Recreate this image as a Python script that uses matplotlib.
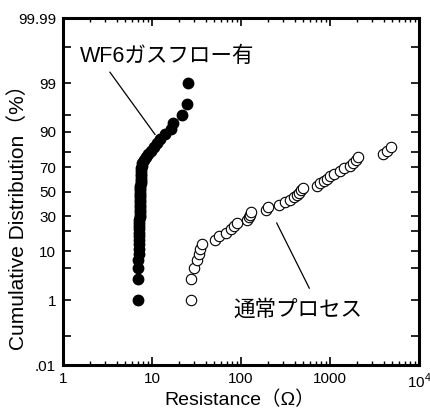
import numpy as np
import matplotlib
matplotlib.use("Agg")
import matplotlib.pyplot as plt
from statistics import NormalDist

plt.rcParams['font.family'] = ['Liberation Sans', 'Noto Sans CJK JP']
plt.rcParams['mathtext.fontset'] = 'custom'
plt.rcParams['mathtext.rm'] = 'Liberation Sans'

# ---- data ----
n_total = 50
wf6_resistance = [7.0, 7.0, 7.05, 7.05, 7.1, 7.1, 7.1, 7.15, 7.15, 7.15,
                  7.2, 7.2, 7.2, 7.2, 7.25, 7.25, 7.25, 7.3, 7.3, 7.3,
                  7.3, 7.35, 7.35, 7.35, 7.4, 7.4, 7.4, 7.4, 7.45, 7.45,
                  7.5, 7.5, 7.5, 7.55, 7.6, 7.7, 7.8, 8.1, 8.5, 9.0,
                  9.7, 10.5, 11.3, 12.4, 14.0, 16.5, 17.4, 22.0, 25.0, 25.5]
normal_resistance = [27.2, 27.2, 29.6, 32.0, 33.7, 34.6, 36.5, 51.0, 56.6, 67.8,
                     77.2, 83.4, 90.2, 116.8, 123, 126, 129.5, 191, 201, 267,
                     312, 355, 394, 426, 448, 472, 497, 714, 772, 856,
                     925, 1000, 1109, 1295, 1437, 1677, 1813, 1960, 2064, 3940,
                     4370, 4845]

wf6_pct = [(i - 0.5) / n_total * 100 for i in range(1, len(wf6_resistance) + 1)]
normal_pct = [(i - 0.5) / n_total * 100 for i in range(1, len(normal_resistance) + 1)]

y_ticks = [0.01, 0.1, 1, 5, 10, 20, 30, 50, 70, 80, 90, 95, 99, 99.9, 99.99]
y_labels = ['.01', '', '1', '', '10', '', '30', '50', '70', '', '90', '', '99', '', '99.99']
x_ticks = [1, 10, 100, 1000, 10000]
x_labels = ['1', '10', '100', '1000', r'$10^4$']

label_wf6 = 'WF6ガスフロー有'
label_normal = '通常プロセス'

# ---- probability scale ----
_nd = NormalDist()
_ppf = np.vectorize(lambda q: _nd.inv_cdf(q) if np.isfinite(q) else np.nan, otypes=[float])
_cdf = np.vectorize(lambda z: _nd.cdf(z) if not np.isnan(z) else np.nan, otypes=[float])

def forward(p):
    p = np.asarray(p, dtype=float)
    q = np.clip(p / 100.0, 1e-12, 1 - 1e-12)
    return _ppf(q)

def inverse(z):
    z = np.asarray(z, dtype=float)
    return _cdf(z) * 100.0

fig = plt.figure(figsize=(4.30, 4.12), dpi=100)
ax = fig.add_axes([0.1465, 0.114, 0.8279, 0.842])

ax.set_xscale('log')
ax.set_yscale('function', functions=(forward, inverse))

ax.plot(wf6_resistance, wf6_pct, 'o', color='black', markersize=7.5, zorder=3)
ax.plot(normal_resistance, normal_pct, 'o', markerfacecolor='white',
        markeredgecolor='black', markeredgewidth=0.8, markersize=7.5, zorder=3)

ax.set_xlim(1, 10000)
ax.set_ylim(0.01, 99.99)

ax.set_yticks(y_ticks)
ax.set_yticklabels(y_labels)
ax.set_xticks(x_ticks)
ax.set_xticklabels(x_labels)
ax.yaxis.set_minor_locator(matplotlib.ticker.NullLocator())
ax.xaxis.set_minor_locator(matplotlib.ticker.LogLocator(base=10, subs=np.arange(2, 10)))
ax.xaxis.set_minor_formatter(matplotlib.ticker.NullFormatter())

ax.tick_params(axis='both', which='major', direction='in', length=6, width=1.2,
               top=True, right=True, labelsize=11, pad=5)
ax.tick_params(axis='x', which='minor', direction='in', length=3, width=1.0, top=True)
for s in ax.spines.values():
    s.set_linewidth(2.2)

ax.set_xlabel('Resistance（Ω）', fontsize=14)
ax.xaxis.set_label_coords(0.497, -0.10)
ax.xaxis.label.set_va('center')
ax.set_ylabel('Cumulative Distribution（%）', fontsize=15)
ax.yaxis.set_label_coords(-0.126, 0.441)
ax.yaxis.label.set_va('center')

ax.text(1.55, 99.815, label_wf6, fontsize=15.5, ha='left', va='center')
ax.plot([3.37, 10.8], [99.475, 88.99], color='black', linewidth=0.9)
ax.text(81.3, 0.56, label_normal, fontsize=15.5, ha='left', va='center')
ax.plot([252, 585], [25.0, 1.92], color='black', linewidth=0.9)

fig.savefig('out.png', dpi=100)
